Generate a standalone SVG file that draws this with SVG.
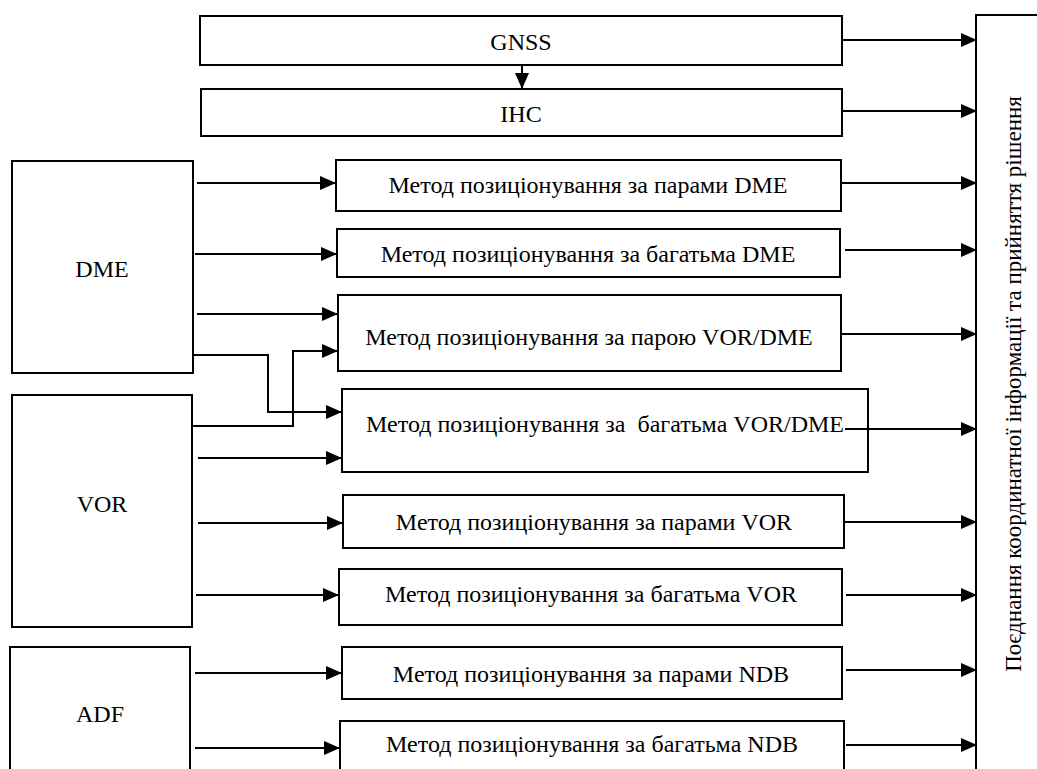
<svg xmlns="http://www.w3.org/2000/svg" width="1037" height="769" viewBox="0 0 1037 769">
<defs>
<marker id="ah" markerUnits="userSpaceOnUse" markerWidth="16" markerHeight="14" refX="16" refY="7" orient="auto"><path d="M0,0 L16,7 L0,14 z" fill="#000"/></marker>
<style>
.box{fill:#fff;stroke:#000;stroke-width:2}
.t{font-size:24px;fill:#000;text-anchor:middle}
.c{fill:none;stroke:#000;stroke-width:2;marker-end:url(#ah)}
</style>
</defs>
<rect width="1037" height="769" fill="#fff"/>
<g font-family="Liberation Serif, Times New Roman, serif">
<g id="gnss"><rect class="box" x="200" y="16" width="642" height="49"/><text class="t" x="521" y="50">GNSS</text></g>
<g id="ihc"><rect class="box" x="201" y="89" width="641" height="47"/><text class="t" x="521" y="122">IHC</text></g>
<g id="dme"><rect class="box" x="12" y="161" width="181" height="212"/><text class="t" x="102" y="277">DME</text></g>
<g id="vor"><rect class="box" x="12" y="395" width="180" height="232"/><text class="t" x="102" y="512">VOR</text></g>
<g id="adf"><rect class="box" x="10" y="647" width="180" height="140"/><text class="t" x="100" y="722">ADF</text></g>
<g id="m1"><rect class="box" x="336" y="160" width="505" height="51"/><text class="t" x="588" y="193">Метод позиціонування за парами DME</text></g>
<g id="m2"><rect class="box" x="337" y="229" width="503" height="48"/><text class="t" x="588" y="262">Метод позиціонування за багатьма DME</text></g>
<g id="m3"><rect class="box" x="338" y="295" width="503" height="76"/><text class="t" x="589" y="345">Метод позиціонування за парою VOR/DME</text></g>
<g id="m4"><rect class="box" x="342" y="389" width="526" height="83"/><text class="t" x="605" y="432" xml:space="preserve">Метод позиціонування за  багатьма VOR/DME</text></g>
<g id="m5"><rect class="box" x="343" y="495" width="501" height="53"/><text class="t" x="594" y="530">Метод позиціонування за парами VOR</text></g>
<g id="m6"><rect class="box" x="339" y="569" width="503" height="56"/><text class="t" x="591" y="602">Метод позиціонування за багатьма VOR</text></g>
<g id="m7"><rect class="box" x="342" y="647" width="500" height="52"/><text class="t" x="591" y="682">Метод позиціонування за парами NDB</text></g>
<g id="m8"><rect class="box" x="340" y="721" width="504" height="70"/><text class="t" x="592" y="752">Метод позиціонування за багатьма NDB</text></g>
<g id="fusion"><rect class="box" x="976" y="15" width="80" height="780"/><text class="t" style="font-size:23px" transform="translate(1021,384) rotate(-90)" x="0" y="0">Поєднання координатної інформації та прийняття рішення</text></g>
</g>
<g id="connectors">
<path class="c" d="M522,65 V89"/>
<path class="c" d="M842,40 H977"/>
<path class="c" d="M842,111 H977"/>
<path class="c" d="M197,183 H336"/>
<path class="c" d="M195,254 H337"/>
<path class="c" d="M197,314 H338"/>
<path class="c" d="M193,355 H268 V412 H342"/>
<path class="c" d="M193,426 H293 V351 H338"/>
<path class="c" d="M198,458 H342"/>
<path class="c" d="M198,523 H343"/>
<path class="c" d="M196,595 H339"/>
<path class="c" d="M195,673 H342"/>
<path class="c" d="M195,748 H340"/>
<path class="c" d="M841,183 H977"/>
<path class="c" d="M845,250 H977"/>
<path class="c" d="M841,334 H977"/>
<path class="c" d="M845,429 H977"/>
<path class="c" d="M844,522 H977"/>
<path class="c" d="M846,595 H977"/>
<path class="c" d="M846,670 H977"/>
<path class="c" d="M846,745 H977"/>
</g>
</svg>
